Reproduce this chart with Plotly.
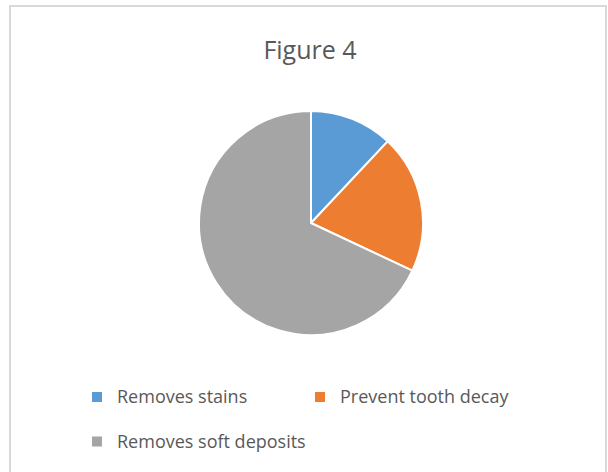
import plotly.graph_objs as go

labels = ["Removes stains", "Prevent tooth decay", "Removes soft deposits"]
values = [12, 20, 68]
colors = ["#5B9BD5", "#ED7D31", "#A5A5A5"]

W, H = 608, 472

# bigger text inside a 16px legend, plus a blank second line on the top row,
# gives the wider row spacing of the original legend
big = "<span style='font-size:18px'>{}</span>"
legend_labels = [big.format(labels[0]) + "<br> ", big.format(labels[1]) + "<br> ", big.format(labels[2])]

fig = go.Figure(go.Pie(
    labels=legend_labels,
    values=values,
    customdata=labels,
    sort=False,
    direction="clockwise",
    rotation=0,
    textinfo="none",
    hovertemplate="%{customdata}: %{value}<extra></extra>",
    marker=dict(colors=colors, line=dict(color="white", width=2)),
    domain=dict(x=[199 / W, 423 / W], y=[137 / H, 361 / H]),
))

fig.update_layout(
    width=W,
    height=H,
    autosize=False,
    margin=dict(l=0, r=0, t=0, b=0),
    paper_bgcolor="white",
    title=dict(text="Figure 4", x=310 / W, xanchor="center", y=1 - 50 / H, yanchor="middle",
               font=dict(family="Open Sans", size=25, color="#595959")),
    legend=dict(orientation="h", x=77 / W, xanchor="left", y=1 - 380 / H, yanchor="top",
                entrywidth=178, entrywidthmode="pixels", valign="top",
                font=dict(family="Open Sans", size=16, color="#595959")),
    shapes=[dict(type="rect", xref="paper", yref="paper", x0=10 / W, x1=606 / W, y0=-0.1, y1=1 - 6 / H,
                 line=dict(color="#D9D9D9", width=2))],
)

fig.write_html("out.html", config={"displayModeBar": False},
               post_script="document.body.style.margin = '0';")
